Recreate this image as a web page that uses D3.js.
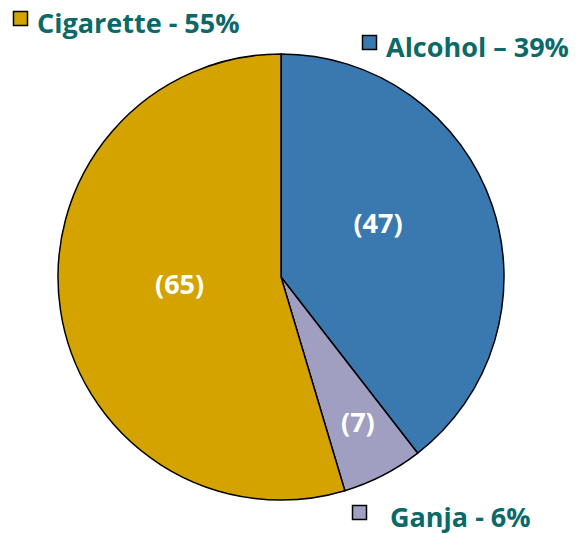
<!DOCTYPE html>
<html>
<head>
<meta charset="utf-8">
<script src="https://cdn.jsdelivr.net/npm/d3@7"></script>
<style>
  html, body { margin: 0; padding: 0; background: #ffffff; }
  svg { display: block; }
</style>
</head>
<body>
<svg id="chart" width="578" height="534"></svg>
<script>
// Substance use counts, drawn clockwise from 12 o'clock
const categories = ["Alcohol", "Ganja", "Cigarette"];
const counts = [47, 7, 65];
const legendLabels = ["Alcohol \u2013 39%", "Ganja - 6%", "Cigarette - 55%"];
const colors = ["#3a78b0", "#a09fc2", "#d4a300"];

const svg = d3.select("#chart");
const cx = 281, cy = 277, radius = 223;
const font = "'Open Sans', sans-serif";

const pie = d3.pie().sort(null).value(d => d)(counts);
const arc = d3.arc().innerRadius(0).outerRadius(radius);

const g = svg.append("g").attr("transform", `translate(${cx},${cy})`);

g.selectAll("path.slice")
  .data(pie)
  .join("path")
  .attr("class", "slice")
  .attr("d", arc)
  .attr("fill", (d, i) => colors[i])
  .attr("stroke", "#000")
  .attr("stroke-width", 1.5)
  .attr("stroke-linejoin", "round");

// Count labels inside slices; the thin slice gets its label further out
const labelRadius = [205, 336, 205];
const labelLift = [21, 5, 8];
g.selectAll("text.count")
  .data(pie)
  .join("text")
  .attr("class", "count")
  .attr("transform", (d, i) => {
    const [x, y] = d3.arc().innerRadius(0).outerRadius(labelRadius[i]).centroid(d);
    return `translate(${x},${y - labelLift[i]})`;
  })
  .attr("text-anchor", "middle")
  .attr("dominant-baseline", "central")
  .attr("fill", "#ffffff")
  .attr("font-family", font)
  .attr("font-weight", "bold")
  .attr("font-size", 27)
  .text(d => `(${d.data})`);

// Legend entries placed around the pie
const legendPos = [
  { x: 362, y: 35 },   // Alcohol
  { x: 352, y: 505 },  // Ganja
  { x: 13, y: 11 }     // Cigarette
];
const legend = svg.selectAll("g.legend")
  .data(categories)
  .join("g")
  .attr("class", "legend")
  .attr("transform", (d, i) => `translate(${legendPos[i].x},${legendPos[i].y})`);

legend.append("rect")
  .attr("x", 0.5).attr("y", 0.5)
  .attr("width", 14).attr("height", 14)
  .attr("fill", (d, i) => colors[i])
  .attr("stroke", "#000")
  .attr("stroke-width", 1.5);

legend.append("text")
  .attr("x", (d, i) => i === 1 ? 38 : 24)
  .attr("y", 22)
  .attr("fill", "#0b6a68")
  .attr("font-family", font)
  .attr("font-weight", "bold")
  .attr("font-size", 27)
  .text((d, i) => legendLabels[i]);
</script>
</body>
</html>
